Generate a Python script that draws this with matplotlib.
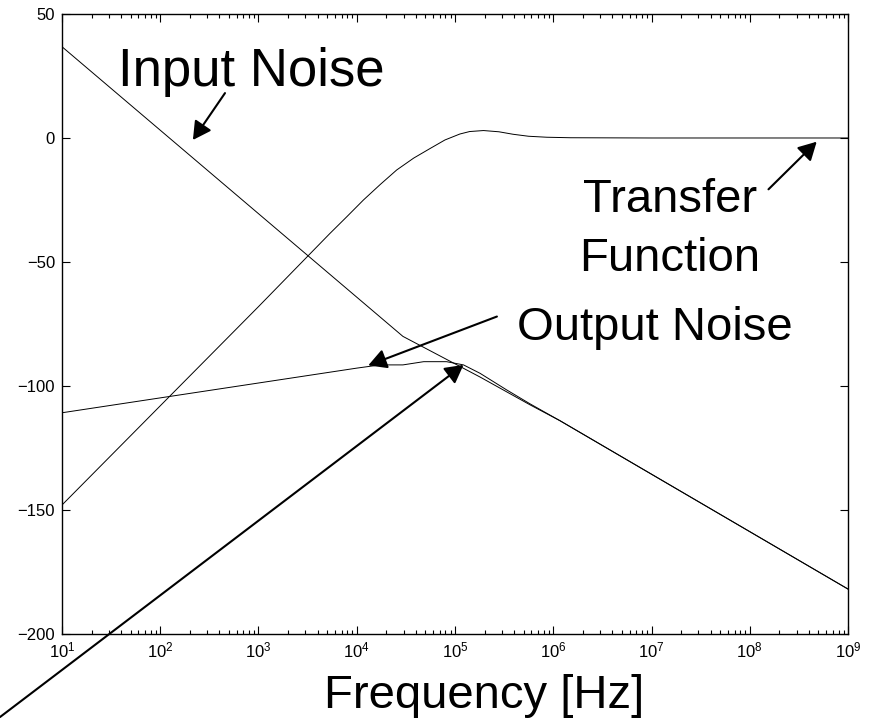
import matplotlib
matplotlib.use("Agg")
import matplotlib.pyplot as plt

# values (frequency in Hz, level in dB)
input_freq = [1e1, 2.95e4, 1.8e5, 5.8e5, 1.17e6, 1e9]
input_db = [36.8, -80.0, -96.4, -107.6, -114.0, -181.9]

output_freq = [1e1, 1e2, 1e3, 1e4, 1.73e4, 2.95e4, 4.8e4, 8.2e4, 1.22e5,
               1.8e5, 3.36e5, 5.8e5, 1.17e6, 1e9]
output_db = [-110.8, -104.8, -98.8, -92.8, -91.5, -91.5, -90.2, -90.2, -91.5,
             -94.9, -101.6, -107.2, -114.0, -181.9]

transfer_freq = [1e1, 1e2, 1e3, 5.3e3, 7.9e3, 1.17e4, 1.74e4, 2.55e4, 3.8e4,
                 5.6e4, 7.9e4, 1.12e5, 1.41e5, 1.95e5, 2.8e5, 3.9e5, 5.6e5,
                 8.6e5, 1.5e6, 1e7, 1e9]
transfer_db = [-148.0, -108.0, -68.0, -38.6, -31.8, -25.0, -18.7, -12.9, -8.1,
               -4.2, -0.8, 1.6, 2.6, 3.0, 2.5, 1.5, 0.7,
               0.3, 0.1, 0.0, 0.0]

y_ticks = [-200, -150, -100, -50, 0, 50]
x_ticks = [1e1, 1e2, 1e3, 1e4, 1e5, 1e6, 1e7, 1e8, 1e9]

plt.rcParams["font.family"] = ["Liberation Sans", "DejaVu Sans"]
plt.rcParams["mathtext.default"] = "regular"

fig = plt.figure(figsize=(8.73, 7.21), dpi=100)
ax = fig.add_axes([0.0710, 0.1207, 0.9004, 0.8599])

for f, v in [(input_freq, input_db), (output_freq, output_db),
             (transfer_freq, transfer_db)]:
    ax.plot(f, v, color="black", lw=0.7)

ax.set_xscale("log")
ax.set_xlim(1e1, 1e9)
ax.set_ylim(-200, 50)
ax.set_xticks(x_ticks)
ax.set_yticks(y_ticks)
ax.tick_params(which="both", direction="in", top=True, right=True,
               labelsize=12, width=0.8)
ax.tick_params(which="major", length=6, pad=5)
ax.tick_params(which="minor", length=3)
for s in ax.spines.values():
    s.set_linewidth(1.0)

ax.set_xlabel("Frequency [Hz]", fontsize=34)
ax.xaxis.set_label_coords(0.5375, -0.065, transform=ax.transAxes)
ax.xaxis.label.set_va("top")

big = dict(fontsize=34, ha="center", va="baseline")
ax.text(849, 21.0, "Input Noise", fontsize=38, ha="center", va="baseline")
ax.text(1.54e7, -29.7, "Transfer", **big)
ax.text(1.54e7, -53.5, "Function", **big)
ax.text(1.08e7, -81.5, "Output Noise", **big)

arrow = dict(arrowstyle="-|>,head_length=0.55,head_width=0.3",
             color="black", lw=1.5, mutation_scale=20,
             shrinkA=0, shrinkB=0)
arrows = [
    ((215, -0.8), (456, 18.1)),
    ((4.8e8, -1.5), (1.55e8, -20.7)),
    ((1.31e4, -91.7), (2.67e5, -72.0)),
    ((1.22e5, -91.5), (2.34, -233.5)),
]
for tip, tail in arrows:
    ax.annotate("", xy=tip, xytext=tail, arrowprops=arrow,
                annotation_clip=False)

fig.savefig("out.png", dpi=100)
